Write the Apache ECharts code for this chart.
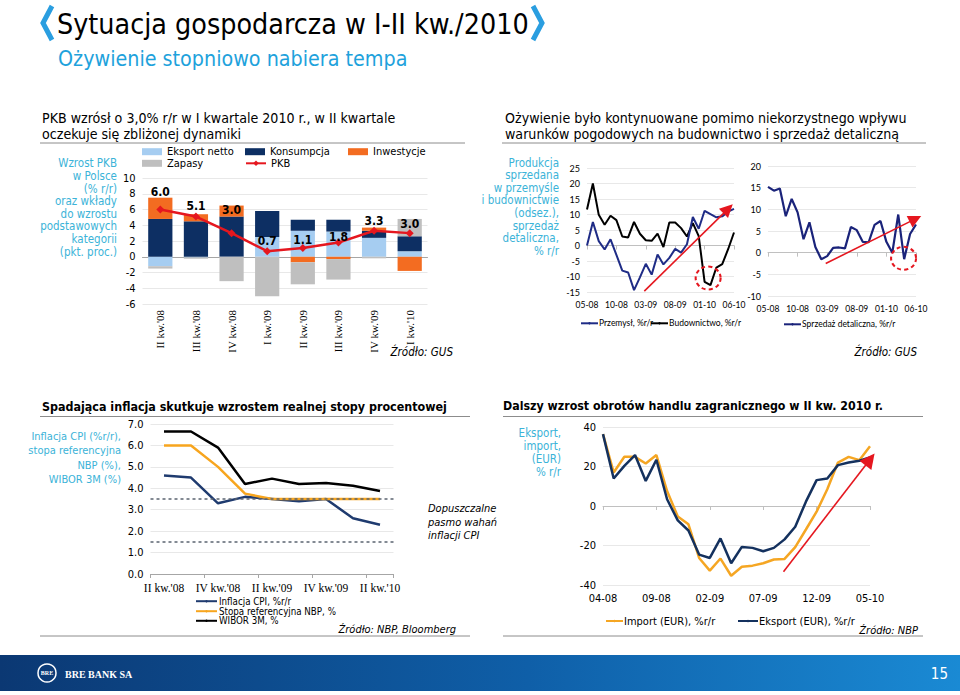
<!DOCTYPE html>
<html><head><meta charset="utf-8">
<script src="https://cdn.jsdelivr.net/npm/echarts@6/dist/echarts.min.js"></script>
<style>html,body{margin:0;padding:0;background:#fff}#c{width:960px;height:695px}</style>
</head><body><div id="c"></div>
<script>
// ---------- DATA ----------
const pkbCats = ["II kw.'08","III kw.'08","IV kw.'08","I kw.'09","II kw.'09","III kw.'09","IV kw.'09","I kw.'10"];
const eksportNetto = [-1.2, -0.1, 0, 2.5, 3.3, 3.2, 2.4, 0.7];
const konsumpcja   = [4.8, 4.5, 5.1, 3.3, 1.4, 1.5, 0.9, 1.9];
const inwestycje   = [2.7, 0.9, 1.4, 0, -0.7, -0.3, 0.4, -1.8];
const zapasy       = [-0.3, -0.15, -3.1, -5.0, -2.8, -2.6, -0.2, 2.2];
const pkb          = [6.0, 5.1, 3.0, 0.7, 1.1, 1.8, 3.3, 3.0];

const prodMonths = ['05-08','06-08','07-08','08-08','09-08','10-08','11-08','12-08','01-09','02-09','03-09','04-09','05-09','06-09','07-09','08-09','09-09','10-09','11-09','12-09','01-10','02-10','03-10','04-10','05-10','06-10'];
const przemysl    = [0, 7.6, 1.4, -1.3, 2.0, -3.0, -8.1, -8.7, -14.4, -10.3, -5.9, -9.4, -2.9, -6.1, -4.0, -1.1, -2.3, 0.4, 9.2, 5.4, 11.2, 10.1, 9.1, 9.4, 10.9, 11.8];
const budownictwo = [11.6, 20.0, 9.9, 6.7, 9.6, 8.2, 2.9, 2.6, 7.6, 3.8, 1.7, 1.5, 3.8, -0.5, 7.4, 7.4, 5.6, 2.9, 7.2, 3.0, -11.7, -12.8, -7.1, -6.0, -1.2, 4.2];
const sprzedaz    = [15.2, 14.3, 14.8, 8.4, 12.4, 9.3, 3.1, 7.0, 1.3, -1.5, -0.8, 1.1, 1.2, 1.0, 5.9, 5.2, 2.5, 2.4, 6.4, 7.3, 2.5, 0.0, 8.8, -1.5, 4.3, 6.5];

const quarters = ["II kw.'08","III kw.'08","IV kw.'08","I kw.'09","II kw.'09","III kw.'09","IV kw.'09","I kw.'10","II kw.'10"];
const cpi      = [4.6, 4.5, 3.3, 3.6, 3.5, 3.4, 3.5, 2.6, 2.3];
const stopaRef = [6.0, 6.0, 5.0, 3.75, 3.5, 3.5, 3.5, 3.5, 3.5];
const wibor    = [6.65, 6.65, 5.9, 4.2, 4.45, 4.2, 4.25, 4.12, 3.87];
const cpiBand  = [3.5, 1.5];

const tradeMonths = ['04-08','05-08','06-08','07-08','08-08','09-08','10-08','11-08','12-08','01-09','02-09','03-09','04-09','05-09','06-09','07-09','08-09','09-09','10-09','11-09','12-09','01-10','02-10','03-10','04-10','05-10'];
const importEur  = [36.4, 17.0, 24.9, 24.9, 21.5, 25.8, 7.6, -5.3, -9.3, -26.3, -32.7, -26.6, -35.3, -30.8, -30.2, -29.0, -27.1, -26.8, -20.8, -11.9, -2.9, 8.5, 22.0, 24.9, 23.2, 30.2];
const eksportEur = [36.4, 13.9, 20.3, 25.8, 12.7, 23.4, 3.4, -7.3, -12.4, -24.6, -26.3, -16.4, -29.0, -20.7, -21.2, -22.9, -21.2, -16.9, -10.5, 2.2, 13.1, 13.9, 20.7, 22.0, 22.9, 24.6];

// trend annotations (start / end in data units: [month index, value])
const prodTrend   = [[9.75, -14.7], [24.0, 11.8]];
const prodDip     = [20.6, -10.5];
const retailTrend = [[9.75, -2.5], [24.9, 7.8]];
const retailDip   = [22.9, -1.3];
const tradeTrend  = [[16.9, -33.3], [25, 23.6]];

// ---------- STYLE ----------
const F  = "'DejaVu Sans Condensed','DejaVu Sans',sans-serif";
const FL = "Lato,'DejaVu Sans Condensed',sans-serif";
const FS = "'Liberation Serif','DejaVu Serif',serif";
const CYAN = '#3bb3d8';
const RED = '#e5171f';
const pkbLabelOffsets = [[0,-3],[0,4],[0,-8],[0,5],[0,7],[0,9],[0,5],[0,6]];

const chart = echarts.init(document.getElementById('c'), null, {renderer:'svg'});
const pairs = a => a.map((v,i)=>[i,v]);

function valueX(grid, months, withLabels, fontFamily, fontSize){
  if (withLabels) return {gridIndex:grid, type:'value', min:0, max:25, interval:5, position:'bottom',
    axisLine:{show:false,onZero:false}, axisTick:{show:false}, splitLine:{show:false},
    axisLabel:{formatter:v=>months[v]||'', fontFamily, fontSize, color:'#000', margin:8}};
  return {gridIndex:grid, type:'value', min:0, max:25, interval:5, position:'bottom',
    axisLine:{show:true,onZero:true,lineStyle:{color:'#c0c0c0'}}, axisTick:{show:true,length:4,lineStyle:{color:'#c0c0c0'}},
    axisLabel:{show:false}, splitLine:{show:false}};
}
function valueY(grid, min, max, interval, fontFamily, fontSize, fmt){
  return {gridIndex:grid, type:'value', min, max, interval,
    axisLine:{show:false}, axisTick:{show:false},
    splitLine:{lineStyle:{color:'#e8e8e8'}},
    axisLabel:{fontFamily, fontSize, color:'#000', margin:7, formatter:fmt}};
}
function trendMarkLine(seg, size){
  return {silent:true, symbol:['none','triangle'], symbolSize:size||13, label:{show:false},
    lineStyle:{color:RED, width:1.6, type:'solid'},
    data:[[{coord:seg[0]},{coord:seg[1]}]]};
}
function dipMarkPoint(pt){
  return {silent:true, data:[{coord:pt, symbol:'circle', symbolSize:[25,23],
    itemStyle:{color:'rgba(0,0,0,0)', borderColor:RED, borderWidth:2, borderType:[4,3]}, label:{show:false}}]};
}
function leg(name, left, top, opts){
  return Object.assign({data:[name], left, top, padding:0, itemGap:0, itemWidth:20, itemHeight:7,
    selectedMode:false, textStyle:{fontFamily:F, fontSize:11, color:'#000', lineHeight:11}}, opts||{});
}
const smallLeg = {fontFamily:FL, fontSize:8.5, color:'#000', lineHeight:10, padding:[0,0,0,-4]};
const cpiLeg = {fontFamily:F, fontSize:9.7, color:'#000', lineHeight:9, padding:[0,0,0,-3]};
const tradeLeg = {fontFamily:F, fontSize:11, color:'#000', lineHeight:12, padding:[0,0,0,-4]};

const option = {
  animation:false,
  grid:[
    {left:142.5, top:178, width:285, height:126, outerBoundsMode:'none'},
    {left:587, top:168, width:147, height:124, outerBoundsMode:'none'},
    {left:768, top:166, width:148, height:130, outerBoundsMode:'none'},
    {left:150.5, top:424, width:243, height:150, outerBoundsMode:'none'},
    {left:603, top:427, width:267, height:158, outerBoundsMode:'none'}
  ],
  xAxis:[
    {gridIndex:0, type:'category', data:pkbCats, position:'bottom', axisLine:{show:false,onZero:false}, axisTick:{show:false},
      axisLabel:{rotate:90, fontFamily:FS, fontSize:11, color:'#000', margin:6, interval:0}},
    {gridIndex:0, type:'category', data:pkbCats, position:'bottom', axisLine:{show:true,onZero:true,lineStyle:{color:'#a6a6a6'}}, axisTick:{show:false}, axisLabel:{show:false}},
    valueX(1, prodMonths, true, FL, 8.5),
    valueX(1, prodMonths, false),
    valueX(2, prodMonths, true, FL, 8.5),
    valueX(2, prodMonths, false),
    {gridIndex:3, type:'category', data:quarters, boundaryGap:true, position:'bottom',
      axisLine:{lineStyle:{color:'#a6a6a6'}}, axisTick:{show:true, interval:1, length:4, lineStyle:{color:'#a6a6a6'}},
      axisLabel:{interval:1, fontFamily:FS, fontSize:11.5, color:'#000', margin:8}},
    valueX(4, tradeMonths, true, F, 11),
    valueX(4, tradeMonths, false)
  ],
  yAxis:[
    valueY(0, -6, 10, 2, F, 11),
    valueY(1, -15, 25, 5, FL, 9),
    valueY(2, -10, 20, 5, FL, 9),
    valueY(3, 0, 7, 1, F, 11, v=>v.toFixed(1)),
    valueY(4, -40, 40, 20, F, 11)
  ],
  legend:[
    leg('Eksport netto', 142, 146.2, {icon:'rect'}),
    leg('Konsumpcja', 245, 146.2, {icon:'rect'}),
    leg('Inwestycje', 348, 146.2, {icon:'rect'}),
    leg('Zapasy', 142, 157.8, {icon:'rect'}),
    leg('PKB', 245, 157.8),
    leg('Przemysł, %r/r', 580, 318.3, {itemWidth:17, itemHeight:3, textStyle:smallLeg}),
    leg('Budownictwo, %r/r', 650, 318.3, {itemWidth:17, itemHeight:3, textStyle:smallLeg}),
    leg('Sprzedaż detaliczna, %r/r', 783, 319.3, {itemWidth:17, itemHeight:3, textStyle:smallLeg}),
    leg('Inflacja CPI, %r/r', 195, 596.2, {itemWidth:21, itemHeight:3, textStyle:cpiLeg}),
    leg('Stopa referencyjna NBP, %', 195, 606.2, {itemWidth:21, itemHeight:3, textStyle:cpiLeg}),
    leg('WIBOR 3M, %', 195, 615.8, {itemWidth:21, itemHeight:3, textStyle:cpiLeg}),
    leg('Import (EUR), %r/r', 605, 615, {itemWidth:17, itemHeight:3, textStyle:tradeLeg}),
    leg('Eksport (EUR), %r/r', 737, 615, {itemWidth:20, itemHeight:3, textStyle:tradeLeg})
  ],
  series:[
    {name:'Eksport netto', type:'bar', stack:'pkb', xAxisIndex:0, yAxisIndex:0, barWidth:'68%', data:eksportNetto, itemStyle:{color:'#a6cdf1'}},
    {name:'Konsumpcja', type:'bar', stack:'pkb', xAxisIndex:0, yAxisIndex:0, barWidth:'68%', data:konsumpcja, itemStyle:{color:'#0d2f63'}},
    {name:'Inwestycje', type:'bar', stack:'pkb', xAxisIndex:0, yAxisIndex:0, barWidth:'68%', data:inwestycje, itemStyle:{color:'#f36c21'}},
    {name:'Zapasy', type:'bar', stack:'pkb', xAxisIndex:0, yAxisIndex:0, barWidth:'68%', data:zapasy, itemStyle:{color:'#bfbfbf'}},
    {name:'PKB', type:'line', xAxisIndex:0, yAxisIndex:0, symbol:'diamond', symbolSize:8, z:5,
      lineStyle:{color:RED, width:2.5}, itemStyle:{color:RED},
      data:pkb.map((v,i)=>({value:v, label:{offset:pkbLabelOffsets[i]}})),
      label:{show:true, position:'top', fontFamily:F, fontWeight:'bold', fontSize:12, color:'#000', formatter:p=>Number(p.value).toFixed(1)}},

    {name:'Przemysł, %r/r', type:'line', xAxisIndex:2, yAxisIndex:1, symbol:'none', clip:false,
      lineStyle:{color:'#1f2c86', width:2}, itemStyle:{color:'#1f2c86'}, data:pairs(przemysl),
      markLine:trendMarkLine(prodTrend), markPoint:dipMarkPoint(prodDip), z:3},
    {name:'Budownictwo, %r/r', type:'line', xAxisIndex:2, yAxisIndex:1, symbol:'none',
      lineStyle:{color:'#000', width:2}, itemStyle:{color:'#000'}, data:pairs(budownictwo), z:2},

    {name:'Sprzedaż detaliczna, %r/r', type:'line', xAxisIndex:4, yAxisIndex:2, symbol:'none', clip:false,
      lineStyle:{color:'#1a237a', width:2.2}, itemStyle:{color:'#1a237a'}, data:pairs(sprzedaz),
      markLine:trendMarkLine(retailTrend), markPoint:dipMarkPoint(retailDip)},

    {name:'Inflacja CPI, %r/r', type:'line', xAxisIndex:6, yAxisIndex:3, symbol:'none',
      lineStyle:{color:'#1f3b6f', width:2.5}, itemStyle:{color:'#1f3b6f'}, data:cpi,
      markLine:{silent:true, symbol:'none', label:{show:false}, lineStyle:{color:'#5b6470', width:1.5, type:[3,3]},
        data:cpiBand.map(v=>({yAxis:v}))}},
    {name:'Stopa referencyjna NBP, %', type:'line', xAxisIndex:6, yAxisIndex:3, symbol:'none',
      lineStyle:{color:'#f7a51e', width:2.5}, itemStyle:{color:'#f7a51e'}, data:stopaRef},
    {name:'WIBOR 3M, %', type:'line', xAxisIndex:6, yAxisIndex:3, symbol:'none',
      lineStyle:{color:'#000', width:2.5}, itemStyle:{color:'#000'}, data:wibor},

    {name:'Import (EUR), %r/r', type:'line', xAxisIndex:7, yAxisIndex:4, symbol:'none',
      lineStyle:{color:'#f5a623', width:2.5}, itemStyle:{color:'#f5a623'}, data:pairs(importEur)},
    {name:'Eksport (EUR), %r/r', type:'line', xAxisIndex:7, yAxisIndex:4, symbol:'none', clip:false,
      lineStyle:{color:'#14315e', width:2.5}, itemStyle:{color:'#14315e'}, data:pairs(eksportEur),
      markLine:trendMarkLine(tradeTrend, 15)}
  ],
  graphic:[
    // header
    {type:'polyline', shape:{points:[[52,6],[43,23],[52,40]]}, style:{stroke:'#2a9ee0', lineWidth:5, fill:null, lineJoin:'miter'}},
    {type:'polyline', shape:{points:[[533,6],[542,23],[533,40]]}, style:{stroke:'#2a9ee0', lineWidth:5, fill:null, lineJoin:'miter'}},
    {type:'text', x:57, y:24, style:{text:'Sytuacja gospodarcza w I-II kw./2010', font:'28.4px '+F, fill:'#000', verticalAlign:'middle'}},
    {type:'text', x:58, y:58, style:{text:'Ożywienie stopniowo nabiera tempa', font:'21.3px '+F, fill:'#1ea2dc', verticalAlign:'middle'}},
    // section headers
    {type:'text', x:42, y:110, style:{text:'PKB wzrósł o 3,0% r/r w I kwartale 2010 r., w II kwartale\noczekuje się zbliżonej dynamiki', font:'14.1px '+F, lineHeight:16, fill:'#000', verticalAlign:'top'}},
    {type:'text', x:505, y:110, style:{text:'Ożywienie było kontynuowane pomimo niekorzystnego wpływu\nwarunków pogodowych na budownictwo i sprzedaż detaliczną', font:'14.1px '+F, lineHeight:16, fill:'#000', verticalAlign:'top'}},
    {type:'text', x:42, y:406, style:{text:'Spadająca inflacja skutkuje wzrostem realnej stopy procentowej', font:'bold 12.4px '+F, fill:'#000', verticalAlign:'middle'}},
    {type:'text', x:503, y:406, style:{text:'Dalszy wzrost obrotów handlu zagranicznego w II kw. 2010 r.', font:'bold 12.3px '+F, fill:'#000', verticalAlign:'middle'}},
    {type:'line', shape:{x1:40,y1:143,x2:465,y2:143}, style:{stroke:'#8c8c8c', lineWidth:1}},
    {type:'line', shape:{x1:502,y1:143,x2:926,y2:143}, style:{stroke:'#8c8c8c', lineWidth:1}},
    {type:'line', shape:{x1:40,y1:416.5,x2:470,y2:416.5}, style:{stroke:'#8c8c8c', lineWidth:1}},
    {type:'line', shape:{x1:503,y1:416.5,x2:923,y2:416.5}, style:{stroke:'#8c8c8c', lineWidth:1}},
    {type:'line', shape:{x1:40,y1:636,x2:470,y2:636}, style:{stroke:'#8c8c8c', lineWidth:1}},
    {type:'line', shape:{x1:503,y1:636,x2:923,y2:636}, style:{stroke:'#8c8c8c', lineWidth:1}},
    // axis captions
    {type:'text', x:117, y:157, style:{text:'Wzrost PKB\nw Polsce\n(% r/r)\noraz wkłady\ndo wzrostu\npodstawowych\nkategorii\n(pkt. proc.)', font:'11.5px '+F, lineHeight:12.6, fill:CYAN, align:'right', verticalAlign:'top'}},
    {type:'text', x:559, y:156.4, style:{text:'Produkcja\nsprzedana\nw przemyśle\ni budownictwie\n(odsez.),\nsprzedaż\ndetaliczna,\n% r/r', font:'11.5px '+F, lineHeight:12.6, fill:CYAN, align:'right', verticalAlign:'top'}},
    {type:'text', x:121, y:429.6, style:{text:'Inflacja CPI (%r/r),\nstopa referencyjna\nNBP (%),\nWIBOR 3M (%)', font:'11px '+F, lineHeight:14.2, fill:CYAN, align:'right', verticalAlign:'top'}},
    {type:'text', x:561, y:426.9, style:{text:'Eksport,\nimport,\n(EUR)\n% r/r', font:'11.5px '+F, lineHeight:12.8, fill:CYAN, align:'right', verticalAlign:'top'}},
    {type:'text', x:428, y:502, style:{text:'Dopuszczalne\npasmo wahań\ninflacji CPI', font:'italic 11px '+F, lineHeight:13.5, fill:'#000', verticalAlign:'top'}},
    // sources
    {type:'text', x:453, y:352, style:{text:'Źródło: GUS', font:'italic 11.5px '+F, fill:'#000', align:'right', verticalAlign:'middle'}},
    {type:'text', x:917, y:352, style:{text:'Źródło: GUS', font:'italic 11.5px '+F, fill:'#000', align:'right', verticalAlign:'middle'}},
    {type:'text', x:456, y:629.5, style:{text:'Źródło: NBP, Bloomberg', font:'italic 11px '+F, fill:'#000', align:'right', verticalAlign:'middle'}},
    {type:'text', x:918, y:630, style:{text:'Źródło: NBP', font:'italic 11px '+F, fill:'#000', align:'right', verticalAlign:'middle'}},
    // footer
    {type:'rect', shape:{x:0,y:655,width:960,height:36}, style:{fill:new echarts.graphic.LinearGradient(0,0,1,0,[{offset:0,color:'#0b3873'},{offset:0.55,color:'#0f5fa8'},{offset:1,color:'#1a8ad4'}])}},
    {type:'circle', shape:{cx:47,cy:673,r:9}, style:{stroke:'#fff', lineWidth:1.5, fill:null}},
    {type:'text', x:47, y:673, style:{text:'BRE', font:'bold 6px '+FS, fill:'#fff', align:'center', verticalAlign:'middle'}},
    {type:'text', x:65, y:674, style:{text:'BRE BANK SA', font:'bold 10px '+FS, fill:'#fff', verticalAlign:'middle'}},
    {type:'text', x:948, y:674, style:{text:'15', font:'15px '+F, fill:'#fff', align:'right', verticalAlign:'middle'}}
  ]
};
chart.setOption(option);
</script></body></html>
